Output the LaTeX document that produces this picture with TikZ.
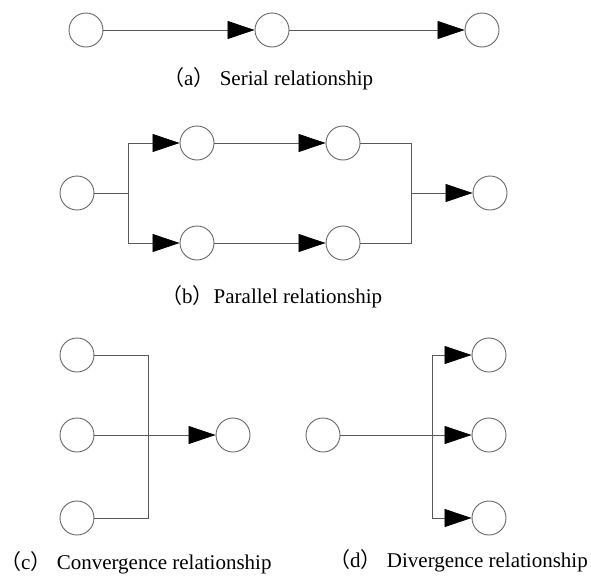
\documentclass[tikz,border=0pt]{standalone}
\usepackage{fontspec}
\setmainfont{Liberation Serif}
\newfontfamily\cjk{Noto Sans CJK SC}
\usetikzlibrary{arrows.meta}
\begin{document}
\begin{tikzpicture}[x=1pt,y=-1pt,
  nd/.style={circle,draw=black!60,line width=0.9pt,minimum size=34pt,inner sep=0pt,fill=white},
  ln/.style={draw=black!65,line width=0.8pt},
  ar/.style={ln,-{Triangle[length=27pt,width=18pt,fill=black,color=black]}},
  lbl/.style={anchor=base west,inner sep=0pt,font=\fontsize{21}{24}\selectfont}]
\useasboundingbox (0,0) rectangle (591,576);
% (a) serial
\node[nd] (a1) at (86,30) {};
\node[nd] (a2) at (272,30) {};
\node[nd] (a3) at (482,30) {};
\draw[ar] (a1) -- (a2);
\draw[ar] (a2) -- (a3);
\node[lbl] (la) at (163,85) {{\cjk （}a{\cjk ）} Serial relationship};
% (b) parallel
\node[nd] (b0) at (77,193) {};
\node[nd] (b1) at (197,143) {};
\node[nd] (b2) at (343,143) {};
\node[nd] (b3) at (197,243) {};
\node[nd] (b4) at (343,243) {};
\node[nd] (b5) at (490,193) {};
\coordinate (bs) at (128,193);
\coordinate (bst) at (128,143);
\coordinate (bsb) at (128,243);
\coordinate (bj) at (411,193);
\coordinate (bjt) at (411,143);
\coordinate (bjb) at (411,243);
\draw[ln] (b0) -- (bs);
\draw[ln] (bst) -- (bsb);
\draw[ar] (bst) -- (b1);
\draw[ar] (bsb) -- (b3);
\draw[ar] (b1) -- (b2);
\draw[ar] (b3) -- (b4);
\draw[ln] (b2) -- (bjt) -- (bjb) -- (b4);
\draw[ar] (bj) -- (b5);
\node[lbl] (lb) at (161,303) {{\cjk （}b{\cjk ）}Parallel relationship};
% (c) convergence
\node[nd] (c1) at (77,355) {};
\node[nd] (c2) at (77,435) {};
\node[nd] (c3) at (77,518) {};
\node[nd] (c4) at (233,435) {};
\coordinate (cjt) at (148,355);
\coordinate (cjb) at (148,518);
\draw[ln] (c1) -- (cjt) -- (cjb) -- (c3);
\draw[ar] (c2) -- (c4);
\node[lbl] (lc) at (0,569) {{\cjk （}c{\cjk ）} Convergence relationship};
% (d) divergence
\node[nd] (d0) at (323,435) {};
\node[nd] (d1) at (489,355) {};
\node[nd] (d2) at (489,435) {};
\node[nd] (d3) at (489,518) {};
\coordinate (djt) at (432,355);
\coordinate (djb) at (432,518);
\draw[ln] (djt) -- (djb);
\draw[ar] (d0) -- (d2);
\draw[ar] (djt) -- (d1);
\draw[ar] (djb) -- (d3);
\node[lbl] (ld) at (329,567) {{\cjk （}d{\cjk ）} Divergence relationship};
\end{tikzpicture}
\end{document}
